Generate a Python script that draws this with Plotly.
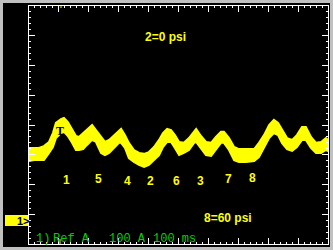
import plotly.graph_objects as go

# ---- data (time in ms, current in A; 100 A/div, 100 ms/div) ----
t_ms = [0, 17, 33, 50, 67, 80, 90, 107, 117, 130, 144, 157, 167, 181, 194, 211, 224, 241, 254, 268,
        284, 301, 308, 321, 334, 351, 368, 385, 401, 418, 435, 448, 462, 475, 488, 502, 518, 535, 552,
        559, 575, 592, 609, 625, 642, 652, 669, 686, 702, 726, 753, 769, 786, 803, 819, 833, 846, 863,
        880, 896, 913, 926, 943, 960, 977, 993, 1000]
upper_A = [223, 223, 223, 229, 243, 273, 307, 320, 324, 310, 283, 263, 260, 273, 287, 300, 283, 260, 243, 250,
           266, 283, 287, 266, 240, 216, 206, 203, 209, 226, 250, 273, 287, 283, 266, 243, 240, 256, 280,
           287, 263, 243, 240, 260, 277, 277, 256, 226, 219, 219, 219, 240, 266, 300, 317, 307, 283, 256,
           250, 266, 293, 293, 260, 240, 243, 256, 250]
lower_A = [179, 182, 182, 182, 206, 226, 256, 273, 277, 263, 240, 216, 216, 219, 233, 250, 243, 206, 199, 206,
           223, 240, 240, 223, 189, 176, 166, 159, 166, 182, 199, 226, 243, 243, 223, 199, 206, 216, 240,
           243, 223, 199, 196, 216, 240, 240, 216, 182, 176, 176, 179, 192, 223, 256, 273, 266, 240, 219,
           213, 226, 250, 250, 223, 206, 206, 216, 213]

cyl_labels = ["1", "5", "4", "2", "6", "3", "7", "8"]
cyl_t = [127, 234, 328, 408, 492, 575, 666, 746]
cyl_A = [115, 118, 111, 111, 111, 111, 118, 122]

top_note = "2=0 psi"
bottom_note = "8=60 psi"
status_parts = ["1)", "Ref A", "100 A", "100 ms"]

YELLOW = "#ffff00"
GREEN = "#00d000"

L, R, T, B = 29, 5, 6, 6
W, H = 333, 250
PW, PH = W - L - R, H - T - B


def px(x):
    return (x - L) / PW


def py(y):
    return (H - B - y) / PH


fig = go.Figure()
fig.add_trace(go.Scatter(
    x=t_ms + t_ms[::-1], y=upper_A + lower_A[::-1],
    mode="lines", fill="toself", fillcolor=YELLOW,
    line=dict(color=YELLOW, width=2), hoverinfo="skip", showlegend=False))

annotations = []
for lab, tx, ty in zip(cyl_labels, cyl_t, cyl_A):
    annotations.append(dict(x=tx, y=ty, xref="x", yref="y", text=lab, showarrow=False,
                            font=dict(family="Liberation Sans", size=12, color=YELLOW, weight="bold")))
annotations.append(dict(x=105, y=280, xref="x", yref="y", text="T", showarrow=False,
                        font=dict(family="Liberation Serif", size=12, color="black", weight="bold")))
annotations.append(dict(x=px(165), y=py(28), xref="paper", yref="paper", text=top_note, showarrow=False,
                        font=dict(family="Liberation Sans", size=12, color=YELLOW, weight="bold")))
annotations.append(dict(x=px(228), y=py(227), xref="paper", yref="paper", text=bottom_note, showarrow=False,
                        font=dict(family="Liberation Sans", size=12, color=YELLOW, weight="bold")))
for part, x0 in zip(status_parts, [34, 51, 107, 151]):
    annotations.append(dict(x=px(x0), y=py(239), xref="paper", yref="paper", text=part, showarrow=False,
                            xanchor="left", yanchor="middle",
                            font=dict(family="Liberation Mono", size=12, color=GREEN)))
annotations.append(dict(x=px(23), y=py(220.5), xref="paper", yref="paper", text="1&gt;", showarrow=False,
                        xanchor="center", yanchor="middle",
                        font=dict(family="Liberation Sans", size=11, color="black", weight="bold")))

shapes = [
    dict(type="rect", xref="paper", yref="paper", x0=px(3), x1=px(330), y0=py(247), y1=py(3),
         fillcolor="black", line=dict(width=0), layer="below"),
    dict(type="rect", xref="paper", yref="paper", x0=px(5), x1=px(29), y0=py(226), y1=py(215),
         fillcolor=YELLOW, line=dict(width=0), layer="below"),
    dict(type="line", xref="paper", yref="paper", x0=px(61), x1=px(61), y0=py(6), y1=py(8),
         line=dict(color=YELLOW, width=1)),
    dict(type="line", xref="paper", yref="paper", x0=px(60), x1=px(60), y0=py(244), y1=py(239),
         line=dict(color=YELLOW, width=1)),
]

axis_common = dict(showgrid=False, zeroline=False, showticklabels=False,
                   showline=True, linecolor="white", linewidth=1, mirror="allticks",
                   ticks="inside", ticklen=6, tickwidth=1, tickcolor="white", fixedrange=True)

fig.update_layout(
    width=W, height=H,
    margin=dict(l=L, r=R, t=T, b=B, pad=0),
    paper_bgcolor="#c0c0c0", plot_bgcolor="black",
    xaxis=dict(range=[0, 1000], dtick=100, tick0=0,
               minor=dict(ticks="inside", ticklen=2, dtick=20, tickcolor="white", showgrid=False),
               **axis_common),
    yaxis=dict(range=[-100, 700], dtick=100, tick0=0,
               minor=dict(ticks="inside", ticklen=2, dtick=20, tickcolor="white", showgrid=False),
               **axis_common),
    annotations=annotations, shapes=shapes, showlegend=False,
)

fig.write_html("out.html", config={"displayModeBar": False, "staticPlot": True})
